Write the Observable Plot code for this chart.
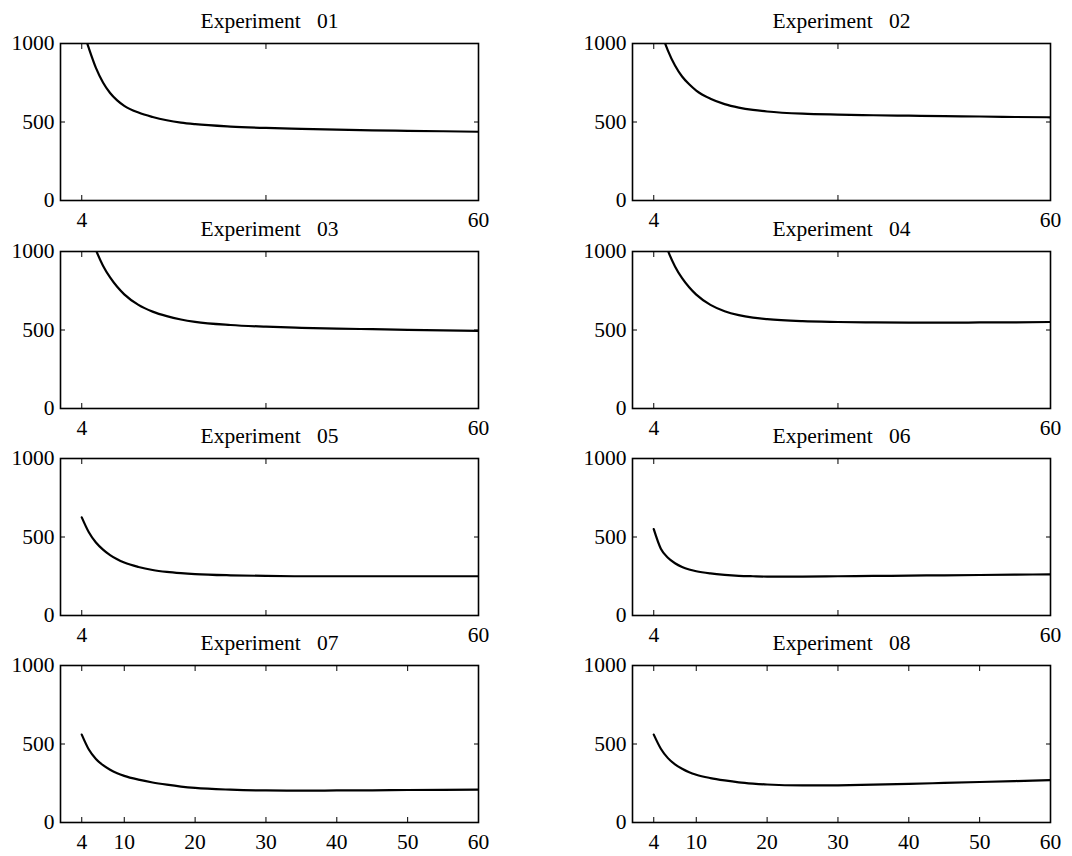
<!DOCTYPE html>
<html>
<head>
<meta charset="utf-8">
<script src="https://cdn.jsdelivr.net/npm/d3@7"></script>
<script src="https://cdn.jsdelivr.net/npm/@observablehq/plot@0.6"></script>
<style>
  html, body { margin: 0; padding: 0; background: white; }
  #chart { position: relative; width: 1072px; height: 856px; overflow: hidden; background: white; }
  #chart svg { position: absolute; }
  #chart svg g, #chart svg text { font-family: 'Liberation Serif', 'Times New Roman', serif !important; font-size: 21.5px !important; }
</style>
</head>
<body>
<div id="chart"></div>
<script>
// ---- data ----
const xs = [4, 5, 6, 7, 8, 9, 10, 12, 14, 16, 18, 20, 25, 30, 35, 40, 45, 50, 55, 60];
const exp01 = [1110, 970, 845, 752, 685, 638, 603, 560, 532, 511, 496, 486, 471, 462, 456, 451, 447, 444, 441, 438];
const exp02 = [1250, 1080, 955, 860, 790, 740, 700, 648, 614, 592, 577, 567, 553, 547, 543, 540, 537, 535, 532, 530];
const exp03 = [1330, 1140, 1010, 910, 835, 775, 727, 660, 617, 588, 567, 552, 532, 521, 514, 509, 505, 501, 498, 495];
const exp04 = [1330, 1140, 1005, 905, 830, 772, 725, 660, 620, 595, 579, 569, 556, 551, 548, 547, 547, 548, 549, 551];
const exp05 = [625, 530, 465, 420, 385, 358, 337, 309, 290, 278, 270, 264, 256, 252, 250, 250, 250, 250, 250, 250];
const exp06 = [550, 425, 368, 333, 309, 293, 282, 268, 259, 253, 250, 248, 248, 250, 252, 254, 256, 258, 260, 262];
const exp07 = [560, 465, 405, 365, 336, 314, 297, 273, 255, 241, 229, 220, 209, 204, 203, 204, 205, 207, 208, 210];
const exp08 = [560, 470, 410, 370, 342, 320, 304, 283, 268, 256, 248, 242, 236, 237, 241, 246, 252, 258, 264, 270];
const series = [exp01, exp02, exp03, exp04, exp05, exp06, exp07, exp08];
const titles = ["Experiment   01", "Experiment   02", "Experiment   03", "Experiment   04",
                "Experiment   05", "Experiment   06", "Experiment   07", "Experiment   08"];
const yTicks = [0, 500, 1000];
const xTicksUpper = [4, 30, 60];
const xLabelsUpper = [4, 60];
const xTicksLower = [4, 10, 20, 30, 40, 50, 60];

// ---- layout ----
const colLeft = [0, 572];
const rowTop = [0, 208, 415, 622];
const chart = document.getElementById("chart");
const font = "'Liberation Serif', 'Times New Roman', serif";
const fontSize = "21.5px";
const base = {
  width: 498, height: 232, marginLeft: 60, marginRight: 20, marginTop: 43, marginBottom: 32,
  style: {background: "transparent", overflow: "visible", fontFamily: font, fontSize, color: "black"}
};

series.forEach((vals, i) => {
  const row = Math.floor(i / 2), col = i % 2;
  const lower = row === 3;
  const data = xs.map((x, k) => ({x, y: vals[k]}));
  const xt = lower ? xTicksLower : xTicksUpper;
  const xl = lower ? xTicksLower : xLabelsUpper;

  // main panel: line, box, bottom/left axes, title
  const main = Plot.plot({
    ...base,
    x: {domain: [1, 60], ticks: xt, tickSize: -5, tickPadding: 16, label: null,
        tickFormat: d => xl.includes(d) ? String(d) : ""},
    y: {domain: [0, 1000], ticks: yTicks, tickSize: -5, tickPadding: 11, label: null,
        tickFormat: d => String(d)},
    marks: [
      Plot.line(data, {x: "x", y: "y", stroke: "black", strokeWidth: 2.2, curve: "monotone-x", clip: true}),
      Plot.frame({stroke: "black", strokeWidth: 1.6}),
      Plot.text([titles[i].replace(/ /g, "\u00a0")], {frameAnchor: "top", dy: -22, fill: "black", fontSize: 21.5, lineAnchor: "middle"})
    ]
  });
  // overlay: mirrored top/right ticks (no labels)
  const mirror = Plot.plot({
    ...base,
    x: {domain: [1, 60], axis: "top", ticks: xt, tickSize: -5, label: null, tickFormat: () => ""},
    y: {domain: [0, 1000], axis: "right", ticks: yTicks, tickSize: -5, label: null, tickFormat: () => ""},
    marks: []
  });
  for (const svg of [main, mirror]) {
    svg.style.left = colLeft[col] + "px";
    svg.style.top = rowTop[row] + "px";
    svg.querySelectorAll("text").forEach(t => {
      t.style.setProperty("font-family", font, "important");
      t.style.setProperty("font-size", fontSize, "important");
    });
    chart.appendChild(svg);
  }
});
</script>
</body>
</html>
